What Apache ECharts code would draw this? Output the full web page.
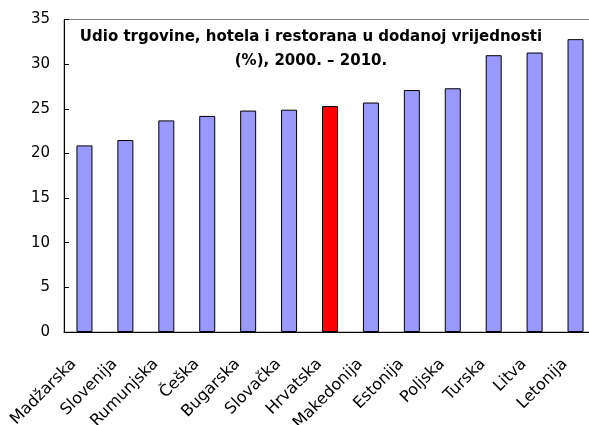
<!DOCTYPE html>
<html>
<head>
<meta charset="utf-8">
<script src="https://cdn.jsdelivr.net/npm/echarts@6/dist/echarts.min.js"></script>
<style>
html,body{margin:0;padding:0;background:#fff;}
#c{width:589px;height:425px;}
</style>
</head>
<body>
<div id="c"></div>
<script>
const categories = ['Madžarska','Slovenija','Rumunjska','Češka','Bugarska','Slovačka','Hrvatska','Makedonija','Estonija','Poljska','Turska','Litva','Letonija'];
const values = [20.9, 21.5, 23.7, 24.2, 24.8, 24.9, 25.3, 25.7, 27.1, 27.3, 31.0, 31.3, 32.8];
const highlight = 'Hrvatska';
const yTicks = [0, 5, 10, 15, 20, 25, 30, 35];
const titleLines = ['Udio trgovine, hotela i restorana u dodanoj vrijednosti', '(%), 2000. – 2010.'];

const FONT = 'DejaVu Sans';
const chart = echarts.init(document.getElementById('c'), null, {renderer: 'canvas'});
chart.setOption({
  animation: false,
  backgroundColor: '#ffffff',
  title: {
    text: titleLines.join('\n'),
    left: 311,
    top: 25,
    textAlign: 'center',
    padding: 0,
    textStyle: {fontFamily: FONT, fontSize: 15, fontWeight: 'bold', color: '#000', lineHeight: 24}
  },
  grid: {
    left: 64, top: 19.5, right: -7, bottom: 93,
    show: true, borderColor: '#808080', borderWidth: 1,
    containLabel: false, outerBoundsMode: 'none'
  },
  xAxis: {
    type: 'category',
    data: categories,
    axisLine: {lineStyle: {color: '#000', width: 1}},
    axisTick: {inside: true, length: 5, interval: 0, lineStyle: {color: '#000'}},
    axisLabel: {
      interval: 0, rotate: 45, margin: 19, padding: [0, 15, 0, 0],
      fontFamily: FONT, fontSize: 16, color: '#000'
    }
  },
  yAxis: {
    type: 'value',
    min: yTicks[0], max: yTicks[yTicks.length - 1], interval: 5,
    axisLine: {show: true, lineStyle: {color: '#000', width: 1}},
    axisTick: {show: true, inside: true, length: 5, lineStyle: {color: '#000'}},
    splitLine: {show: false},
    axisLabel: {margin: 14, fontFamily: FONT, fontSize: 15, color: '#000'}
  },
  series: [{
    type: 'bar',
    barWidth: 16,
    data: values.map((v, i) => ({
      value: v,
      itemStyle: {color: categories[i] === highlight ? '#FF0000' : '#9999FF'}
    })),
    itemStyle: {borderColor: '#000', borderWidth: 1}
  }]
});
</script>
</body>
</html>
